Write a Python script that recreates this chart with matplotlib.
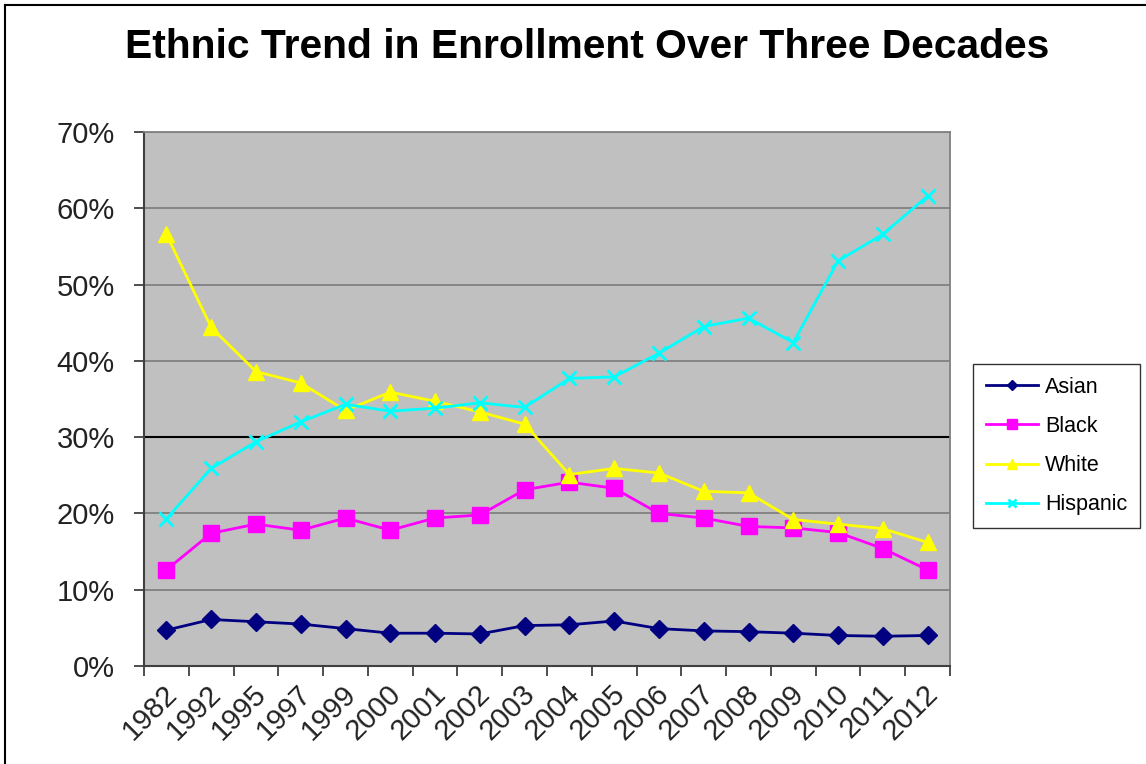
import matplotlib
matplotlib.use("Agg")
import matplotlib.pyplot as plt
import matplotlib.transforms as mtransforms
import numpy as np
from matplotlib.lines import Line2D
from matplotlib.ticker import FixedLocator, PercentFormatter

plt.rcParams['font.family'] = ['Liberation Sans', 'DejaVu Sans']

years = ["1982", "1992", "1995", "1997", "1999", "2000", "2001", "2002", "2003",
         "2004", "2005", "2006", "2007", "2008", "2009", "2010", "2011", "2012"]
asian = [4.7, 6.1, 5.8, 5.5, 4.9, 4.3, 4.3, 4.2, 5.3, 5.4, 5.9, 4.9, 4.6, 4.5, 4.3, 4.0, 3.9, 4.0]
black = [12.6, 17.4, 18.6, 17.8, 19.4, 17.8, 19.4, 19.8, 23.1, 24.1, 23.3, 20.0, 19.4, 18.3, 18.1, 17.5, 15.4, 12.6]
white = [56.6, 44.4, 38.6, 37.1, 33.5, 35.9, 34.7, 33.3, 31.7, 25.1, 25.9, 25.3, 22.9, 22.7, 19.2, 18.6, 18.0, 16.2]
hispanic = [19.3, 25.9, 29.4, 32.0, 34.3, 33.4, 33.8, 34.5, 33.9, 37.7, 37.9, 41.0, 44.5, 45.6, 42.4, 53.1, 56.6, 61.6]

series = [
    ("Asian", asian, "#000080", "D", 9),
    ("Black", black, "#FF00FF", "s", 11),
    ("White", white, "#FFFF00", "^", 11),
    ("Hispanic", hispanic, "#00FFFF", "x", 10),
]

W, H = 1146, 764
fig = plt.figure(figsize=(W / 100, H / 100), dpi=100)
fig.patch.set_facecolor("white")

# figure border (left and top visible)
fig.add_artist(Line2D([5 / W, 5 / W], [0, 1 - 5 / H], color="black", lw=1.5, transform=fig.transFigure))
fig.add_artist(Line2D([5 / W, 1], [1 - 5 / H, 1 - 5 / H], color="black", lw=1.5, transform=fig.transFigure))

ax = fig.add_axes([144 / W, 1 - 666 / H, (950 - 144) / W, (666 - 132) / H])
ax.set_facecolor("#C0C0C0")

x = np.arange(len(years))
handles = []
for name, vals, col, mk, ms in series:
    if mk == "x":
        h, = ax.plot(x, vals, color=col, lw=2, marker=mk, ms=ms, mew=2, label=name, zorder=3)
    else:
        h, = ax.plot(x, vals, color=col, lw=2, marker=mk, ms=ms, mec=col, mfc=col, label=name, zorder=3)
    handles.append(h)

ax.set_xlim(-0.5, len(years) - 0.5)
ax.set_ylim(0, 70)
ax.yaxis.set_major_locator(FixedLocator(np.arange(0, 71, 10)))
ax.yaxis.set_major_formatter(PercentFormatter(decimals=0))
for yv in range(10, 71, 10):
    ax.axhline(yv, color="black" if yv == 30 else "#808080", lw=1.5 if yv == 30 else 1.3, zorder=1)

ax.xaxis.set_major_locator(FixedLocator(np.arange(-0.5, len(years), 1)))
ax.xaxis.set_major_formatter(plt.NullFormatter())
ax.xaxis.set_minor_locator(FixedLocator(x))
ax.set_xticklabels(years, minor=True, rotation=45, ha="right", va="center", rotation_mode="anchor")
ax.tick_params(axis="x", which="minor", length=0, pad=17, labelsize=21)
ax.tick_params(axis="x", which="major", length=7, width=1.3, color="#404040", direction="out")
ax.tick_params(axis="y", which="major", length=7, width=1.3, color="#404040", direction="out",
               pad=14, labelsize=21)
for lab in ax.get_yticklabels():
    lab.set_color("#222222")
offset = mtransforms.ScaledTranslation(6 / 100, 0, fig.dpi_scale_trans)
for lab in ax.get_xticklabels(minor=True):
    lab.set_color("#222222")
    lab.set_transform(lab.get_transform() + offset)

for s in ["left", "bottom"]:
    ax.spines[s].set_color("#404040")
    ax.spines[s].set_linewidth(1.5)
for s in ["top", "right"]:
    ax.spines[s].set_color("#808080")
    ax.spines[s].set_linewidth(1.3)

fig.text(587 / W, 1 - 47 / H, "Ethnic Trend in Enrollment Over Three Decades",
         ha="center", va="center", fontsize=29.3, fontweight="bold", color="black")

leg = fig.legend(handles=handles, loc="upper left", bbox_to_anchor=(973 / W, 1 - 364 / H),
                 frameon=True, fancybox=False, shadow=False, fontsize=15.5, markerscale=0.6,
                 handlelength=2.4, handletextpad=0.35, labelspacing=0.84, borderpad=0.6,
                 borderaxespad=0)
leg.get_frame().set_edgecolor("black")
leg.get_frame().set_linewidth(1.0)

fig.savefig("out.png", dpi=100)
